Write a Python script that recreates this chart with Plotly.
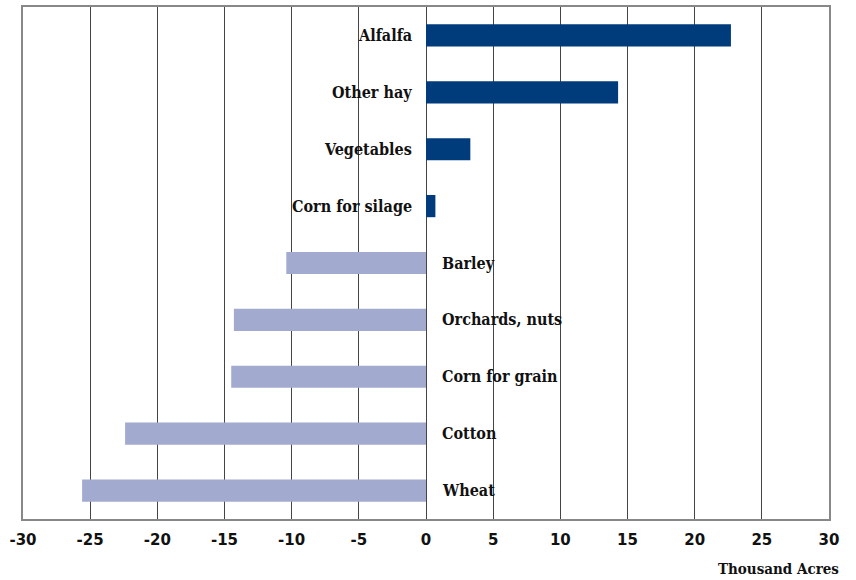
import plotly.graph_objects as go

categories = ["Alfalfa", "Other hay", "Vegetables", "Corn for silage", "Barley",
              "Orchards, nuts", "Corn for grain", "Cotton", "Wheat"]
values = [22.7, 14.3, 3.3, 0.7, -10.4, -14.3, -14.5, -22.4, -25.6]
tick_vals = list(range(-30, 31, 5))
tick_text = ["<b>%d</b>" % v for v in tick_vals]

POS = "#003B7C"
NEG = "#A3AACF"
colors = [POS if v >= 0 else NEG for v in values]

fig = go.Figure()
fig.add_trace(go.Bar(
    y=categories, x=values, orientation="h",
    marker=dict(color=colors, line=dict(width=0)),
    width=0.39, hoverinfo="x+y",
))

label_font = dict(family="DejaVu Serif Condensed, DejaVu Serif", size=16, color="#111")
for c, v in zip(categories, values):
    if v >= 0:
        fig.add_annotation(x=0, y=c, xref="x", yref="y", text="<b>%s</b>" % c,
                           showarrow=False, xanchor="right", xshift=-12, font=label_font)
    else:
        fig.add_annotation(x=0, y=c, xref="x", yref="y", text="<b>%s</b>" % c,
                           showarrow=False, xanchor="left", xshift=14, font=label_font)

fig.add_annotation(x=1.0, y=0, xref="paper", yref="paper", text="<b>Thousand Acres</b>",
                   showarrow=False, xanchor="right", yanchor="top", xshift=12, yshift=-39,
                   font=dict(family="DejaVu Serif Condensed, DejaVu Serif", size=15, color="#111"))

fig.update_layout(
    width=856, height=580,
    margin=dict(l=23, r=27, t=5, b=61),
    paper_bgcolor="white", plot_bgcolor="white",
    showlegend=False,
    xaxis=dict(range=[-30, 30], tickvals=tick_vals, ticktext=tick_text,
               showgrid=True, gridcolor="#444", gridwidth=1,
               zeroline=True, zerolinecolor="#444", zerolinewidth=1,
               showline=True, linecolor="#888", linewidth=2, mirror=True,
               ticks="", ticklen=0, ticklabelstandoff=6,
               tickfont=dict(family="DejaVu Sans", size=15, color="#111"),
               fixedrange=True),
    yaxis=dict(categoryorder="array", categoryarray=categories[::-1],
               showticklabels=False, showgrid=False, zeroline=False,
               showline=True, linecolor="#888", linewidth=2, mirror=True,
               range=[-0.5, len(categories) - 0.5], fixedrange=True),
    bargap=0.6,
)

fig.write_html("out.html", config={"displayModeBar": False},
               post_script="document.body.style.margin='0';")
